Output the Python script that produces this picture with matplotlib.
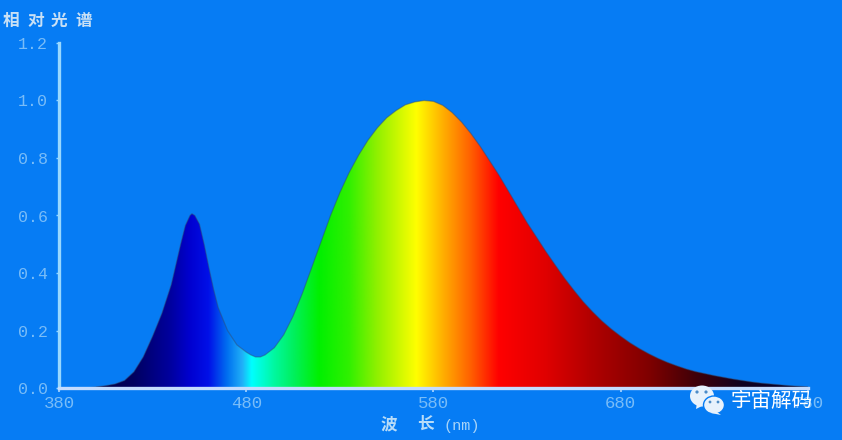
import numpy as np
import matplotlib
matplotlib.use("Agg")
import matplotlib.pyplot as plt
from matplotlib.colors import LinearSegmentedColormap
from matplotlib.patches import Ellipse, Polygon

plt.rcParams['font.family'] = ['Noto Sans CJK SC', 'DejaVu Sans']

# spectrum
wavelength = [395, 400, 405, 410, 415, 420, 425, 430, 435, 440, 442.5, 445, 447.5, 450, 451,
              452.5, 455, 457.5, 460, 462.5, 465, 470, 475, 480, 482.5, 485, 487.5, 490, 495,
              500, 505, 510, 515, 520, 525, 530, 535, 540, 545, 550, 555, 560, 565, 570, 575,
              580, 585, 590, 595, 600, 605, 610, 615, 620, 625, 630, 635, 640, 645, 650, 655,
              660, 665, 670, 675, 680, 685, 690, 695, 700, 705, 710, 715, 720, 725, 730, 735,
              740, 745, 750, 755, 760, 765, 770, 775, 780]
intensity = [0.0, 0.004, 0.008, 0.014, 0.026, 0.056, 0.108, 0.18, 0.26, 0.36, 0.43, 0.50, 0.565,
             0.60, 0.606, 0.60, 0.57, 0.50, 0.42, 0.345, 0.28, 0.20, 0.15, 0.125, 0.115, 0.108,
             0.108, 0.115, 0.14, 0.185, 0.25, 0.33, 0.42, 0.51, 0.60, 0.68, 0.75, 0.81, 0.862,
             0.905, 0.94, 0.965, 0.985, 0.995, 1.0, 0.997, 0.983, 0.958, 0.925, 0.885, 0.84,
             0.79, 0.74, 0.685, 0.63, 0.575, 0.525, 0.475, 0.428, 0.382, 0.34, 0.30, 0.265, 0.233,
             0.205, 0.18, 0.157, 0.137, 0.119, 0.103, 0.089, 0.077, 0.066, 0.057, 0.05, 0.043,
             0.037, 0.031, 0.026, 0.021, 0.017, 0.014, 0.011, 0.008, 0.006, 0.004]

y_ticks = [0.0, 0.2, 0.4, 0.6, 0.8, 1.0, 1.2]
x_ticks = [380, 480, 580, 680, 780]

# colour of the fill along the wavelength axis
stop_nm = [400, 420, 440, 450, 460, 470, 478, 483, 495, 505, 519, 535, 550, 571, 585, 600, 615,
           640, 665, 695, 720, 745, 780]
stop_col = ['#000040', '#000060', '#0000a0', '#0000d0', '#0010e8', '#0070f0', '#20b0f8', '#00ffff',
            '#00f8a0', '#00f060', '#00f000', '#30f000', '#90f000', '#ffff00', '#ffb000', '#ff6000',
            '#ff0000', '#e00000', '#b00000', '#800000', '#400008', '#100020', '#000030']

bg = '#067cf4'
tick_col = '#78bcf8'

fig = plt.figure(figsize=(8.42, 4.40), dpi=100, facecolor=bg)
ax = fig.add_axes([59 / 842, 1 - 388 / 440, (808 - 59) / 842, (388 - 43) / 440])
ax.set_facecolor(bg)
ax.set_xlim(380, 780)
ax.set_ylim(0, 1.2)

pos = [(n - stop_nm[0]) / (stop_nm[-1] - stop_nm[0]) for n in stop_nm]
cmap = LinearSegmentedColormap.from_list('spec', list(zip(pos, stop_col)), N=1024)
grad = np.linspace(0, 1, 1024).reshape(1, -1)
im = ax.imshow(grad, extent=[stop_nm[0], stop_nm[-1], 0, 1.2], aspect='auto', cmap=cmap, zorder=2)
poly = Polygon(list(zip(wavelength, intensity)) + [(780, 0), (395, 0)], closed=True,
               transform=ax.transData, facecolor='none', edgecolor='none')
ax.add_patch(poly)
im.set_clip_path(poly)
ax.plot(wavelength, intensity, color='#304870', lw=0.9, alpha=0.45, zorder=2.5)

for s in ['top', 'right']:
    ax.spines[s].set_visible(False)
ax.spines['left'].set_color('#98d8ff')
ax.spines['bottom'].set_color('#c4dcff')
for s in ['left', 'bottom']:
    ax.spines[s].set_linewidth(2.4)
    ax.spines[s].set_zorder(3)

ax.set_xticks(x_ticks)
ax.set_yticks(y_ticks)
ax.set_xticklabels([str(v) for v in x_ticks], family='Liberation Mono', fontsize=12.5, color=tick_col)
ax.set_yticklabels(['%.1f' % v for v in y_ticks], family='Liberation Mono', fontsize=12, color=tick_col)
ax.tick_params(axis='x', length=3, width=1.2, color='#a8d4ff', pad=3)
ax.tick_params(axis='y', length=2, width=1, color='#98d8ff', pad=6)

for i, ch in enumerate('相对光谱'):
    fig.text((3 + 24 * i) / 842, 1 - 21 / 440, ch, fontsize=12, color='#c8e0f5', va='center', weight='bold')
fig.text(381 / 842, 1 - 424 / 440, '波', fontsize=12, color='#b8dcf8', va='center', weight='bold')
fig.text(417 / 842, 1 - 424 / 440, '长', fontsize=12, color='#b8dcf8', va='center', weight='bold')
fig.text(443 / 842, 1 - 426 / 440, '(nm)', fontsize=11, color='#a8d4f8', va='center', family='Liberation Mono')

# watermark
fig.text(731 / 842, 1 - 401 / 440, '宇宙解码', fontsize=14.8, color='white', va='center')
over = fig.add_axes([0, 0, 1, 1], facecolor='none')
over.set_xlim(0, 842)
over.set_ylim(440, 0)
over.axis('off')
bubble = '#e8f2fc'
over.add_patch(Ellipse((702, 396), 24, 21, facecolor=bubble, edgecolor='none'))
over.add_patch(Polygon([[697, 403], [696, 409], [704, 405]], facecolor=bubble, edgecolor='none'))
over.add_patch(Ellipse((714, 405), 21, 18, facecolor=bubble, edgecolor=bg, linewidth=1))
over.add_patch(Polygon([[717, 412], [721, 415], [711, 413]], facecolor=bubble, edgecolor='none'))
for ex, ey, r in [(697, 392, 1.6), (706, 392, 1.6), (710, 402, 1.4), (718, 402, 1.4)]:
    over.add_patch(Ellipse((ex, ey), 2 * r, 2 * r, facecolor='#4c8cc8', edgecolor='none'))

fig.savefig('out.png', dpi=100, facecolor=bg)
